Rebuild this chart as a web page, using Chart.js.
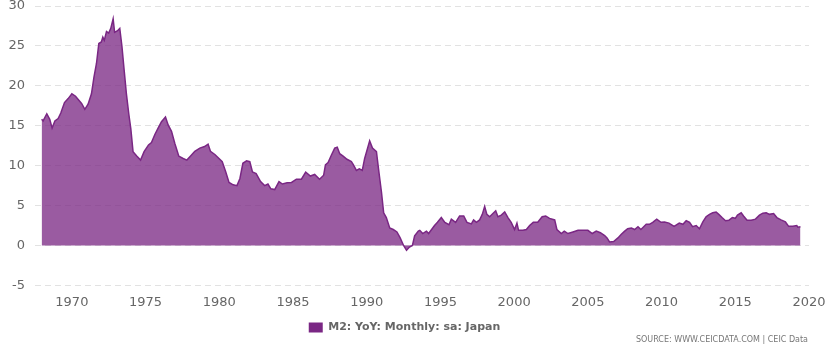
<!DOCTYPE html>
<html>
<head>
<meta charset="utf-8">
<script src="https://cdn.jsdelivr.net/npm/chart.js@4"></script>
<style>
  body { margin: 0; background: #fff; }
  #wrap { position: relative; width: 830px; height: 346px; }
  #source {
    position: absolute; right: 22px; bottom: 2px;
    font: 8px "DejaVu Sans", sans-serif; color: #777;
  }
</style>
</head>
<body>
<div id="wrap">
  <canvas id="m2" width="830" height="346"></canvas>
  <div id="source">SOURCE: WWW.CEICDATA.COM | CEIC Data</div>
</div>
<script>
// M2 YoY (%), Japan
const years = [
  1967.95, 1968.05, 1968.3, 1968.5, 1968.66, 1968.85, 1969.07, 1969.25, 1969.5, 1969.75,
  1970.0, 1970.25, 1970.43, 1970.66, 1970.88, 1971.1, 1971.33, 1971.5, 1971.67, 1971.83,
  1972.0, 1972.1, 1972.2, 1972.35, 1972.5, 1972.64, 1972.8, 1972.9, 1973.1, 1973.25,
  1973.4, 1973.55, 1973.7, 1973.86, 1974.0, 1974.15, 1974.4, 1974.66, 1974.9, 1975.2,
  1975.4, 1975.63, 1975.85, 1976.08, 1976.35, 1976.53, 1976.76, 1976.98, 1977.25, 1977.55,
  1977.8, 1978.1, 1978.34, 1978.68, 1979.0, 1979.24, 1979.4, 1979.7, 1979.98, 1980.2,
  1980.44, 1980.66, 1980.94, 1981.2, 1981.4, 1981.6, 1981.85, 1982.07, 1982.25, 1982.5,
  1982.8, 1983.08, 1983.3, 1983.5, 1983.76, 1984.05, 1984.28, 1984.6, 1984.9, 1985.23,
  1985.57, 1985.86, 1986.18, 1986.47, 1986.8, 1987.08, 1987.2, 1987.38, 1987.6, 1987.83,
  1988.0, 1988.17, 1988.4, 1988.66, 1988.96, 1989.1, 1989.3, 1989.5, 1989.7, 1989.86,
  1990.0, 1990.2, 1990.39, 1990.66, 1990.8, 1991.0, 1991.15, 1991.33, 1991.56, 1991.8,
  1992.05, 1992.27, 1992.5, 1992.7, 1992.9, 1993.1, 1993.25, 1993.5, 1993.6, 1993.8,
  1994.05, 1994.2, 1994.6, 1994.8, 1995.06, 1995.3, 1995.58, 1995.74, 1996.03, 1996.3,
  1996.58, 1996.8, 1997.1, 1997.25, 1997.44, 1997.66, 1997.84, 1998.0, 1998.15, 1998.34,
  1998.56, 1998.75, 1998.9, 1999.13, 1999.36, 1999.58, 1999.8, 2000.03, 2000.19, 2000.3,
  2000.6, 2000.83, 2001.05, 2001.3, 2001.6, 2001.9, 2002.14, 2002.4, 2002.75, 2002.9,
  2003.2, 2003.4, 2003.65, 2003.99, 2004.33, 2004.67, 2005.0, 2005.3, 2005.57, 2005.85,
  2006.14, 2006.3, 2006.47, 2006.75, 2007.04, 2007.27, 2007.5, 2007.7, 2007.95, 2008.17,
  2008.4, 2008.6, 2008.96, 2009.18, 2009.4, 2009.67, 2009.96, 2010.2, 2010.5, 2010.85,
  2011.2, 2011.45, 2011.67, 2011.9, 2012.1, 2012.35, 2012.57, 2012.8, 2013.02, 2013.25,
  2013.47, 2013.7, 2013.88, 2014.1, 2014.34, 2014.56, 2014.8, 2015.0, 2015.15, 2015.4,
  2015.56, 2015.8, 2016.08, 2016.37, 2016.64, 2016.87, 2017.1, 2017.32, 2017.6, 2017.82,
  2018.1, 2018.4, 2018.62, 2018.9, 2019.17, 2019.25, 2019.42
];
const m2yoy = [
  15.8, 15.6, 16.5, 15.8, 14.7, 15.6, 15.9, 16.6, 17.9, 18.4,
  19.0, 18.7, 18.3, 17.8, 17.05, 17.7, 19.0, 21.1, 22.8, 25.3,
  25.5, 26.1, 25.7, 26.8, 26.6, 27.2, 28.4, 26.7, 26.9, 27.2,
  24.9, 21.9, 19.0, 16.5, 14.6, 11.75, 11.2, 10.7, 11.75, 12.6,
  12.9, 13.9, 14.7, 15.5, 16.1, 15.1, 14.3, 12.8, 11.2, 10.9,
  10.7, 11.3, 11.8, 12.2, 12.4, 12.7, 11.8, 11.4, 10.9, 10.5,
  9.2, 7.9, 7.6, 7.5, 8.4, 10.3, 10.6, 10.5, 9.2, 9.0,
  8.0, 7.5, 7.7, 7.1, 7.0, 8.0, 7.7, 7.85, 7.9, 8.3,
  8.3, 9.2, 8.7, 8.9, 8.3, 8.8, 10.1, 10.4, 11.3, 12.2,
  12.3, 11.5, 11.2, 10.8, 10.5, 10.1, 9.4, 9.6, 9.4, 10.9,
  11.8, 13.1, 12.2, 11.75, 9.6, 6.7, 4.1, 3.5, 2.2, 2.0,
  1.7, 0.95, 0.0, -0.6, -0.2, 0.0, 1.2, 1.8, 1.9, 1.5,
  1.8, 1.5, 2.5, 2.9, 3.5, 2.9, 2.6, 3.3, 2.9, 3.7,
  3.7, 2.9, 2.7, 3.2, 2.9, 3.2, 3.9, 4.9, 3.9, 3.6,
  4.0, 4.35, 3.6, 3.8, 4.2, 3.5, 2.9, 2.0, 2.8, 1.9,
  1.9, 2.0, 2.5, 2.9, 2.9, 3.6, 3.7, 3.4, 3.2, 2.0,
  1.5, 1.8, 1.5, 1.7, 1.9, 1.9, 1.9, 1.5, 1.8, 1.6,
  1.25, 0.95, 0.45, 0.5, 0.95, 1.4, 1.8, 2.1, 2.2, 2.0,
  2.35, 2.0, 2.65, 2.65, 2.9, 3.3, 2.9, 2.95, 2.8, 2.4,
  2.8, 2.65, 3.1, 2.9, 2.35, 2.5, 2.1, 2.95, 3.6, 3.9,
  4.1, 4.2, 3.9, 3.5, 3.1, 3.15, 3.5, 3.4, 3.8, 4.1,
  3.7, 3.15, 3.15, 3.3, 3.8, 4.05, 4.1, 3.9, 4.0, 3.5,
  3.2, 2.95, 2.4, 2.4, 2.5, 2.3, 2.35
];
const xTicks = [1970, 1975, 1980, 1985, 1990, 1995, 2000, 2005, 2010, 2015, 2020];
const seriesName = "M2: YoY: Monthly: sa: Japan";

const ctx = document.getElementById("m2").getContext("2d");

new Chart(ctx, {
  type: "line",
  data: {
    datasets: [
      {
        label: seriesName,
        data: years.map((x, i) => ({ x: x, y: m2yoy[i] })),
        borderColor: "#7a2784",
        backgroundColor: "rgba(122, 39, 132, 0.76)",
        borderWidth: 1.5,
        pointRadius: 0,
        tension: 0,
        fill: "origin",
      },
    ],
  },
  options: {
    responsive: false,
    animation: false,
    layout: { padding: { top: 6, right: 21, bottom: 3, left: 0 } },
    plugins: {
      tooltip: { enabled: false },
      legend: {
        position: "bottom",
        labels: {
          boxWidth: 14,
          boxHeight: 10,
          color: "#666",
          padding: 11,
          font: { family: "DejaVu Sans", size: 11, weight: "bold" },
          generateLabels: (chart) =>
            chart.data.datasets.map((ds, i) => ({
              text: ds.label,
              fillStyle: "#7a2784",
              strokeStyle: "#7a2784",
              lineWidth: 0,
              fontColor: "#666",
              datasetIndex: i,
            })),
        },
      },
    },
    scales: {
      x: {
        type: "linear",
        min: 1967.5,
        max: 2020,
        afterBuildTicks: (scale) => {
          scale.ticks = xTicks.map((v) => ({ value: v }));
        },
        grid: { display: false },
        border: { display: false },
        ticks: {
          color: "#666",
          padding: 1,
          maxRotation: 0,
          font: { family: "DejaVu Sans", size: 13 },
          callback: (v) => String(v),
        },
      },
      y: {
        min: -5,
        max: 30,
        afterFit: (scale) => {
          scale.width = 35;
          scale.paddingTop = 1;
        },
        grid: {
          color: "#e2e2e2",
          drawTicks: false,
        },
        border: { display: false, dash: [6, 4] },
        ticks: {
          stepSize: 5,
          color: "#666",
          padding: 10,
          font: { family: "DejaVu Sans", size: 13 },
        },
      },
    },
  },
});
</script>
</body>
</html>
